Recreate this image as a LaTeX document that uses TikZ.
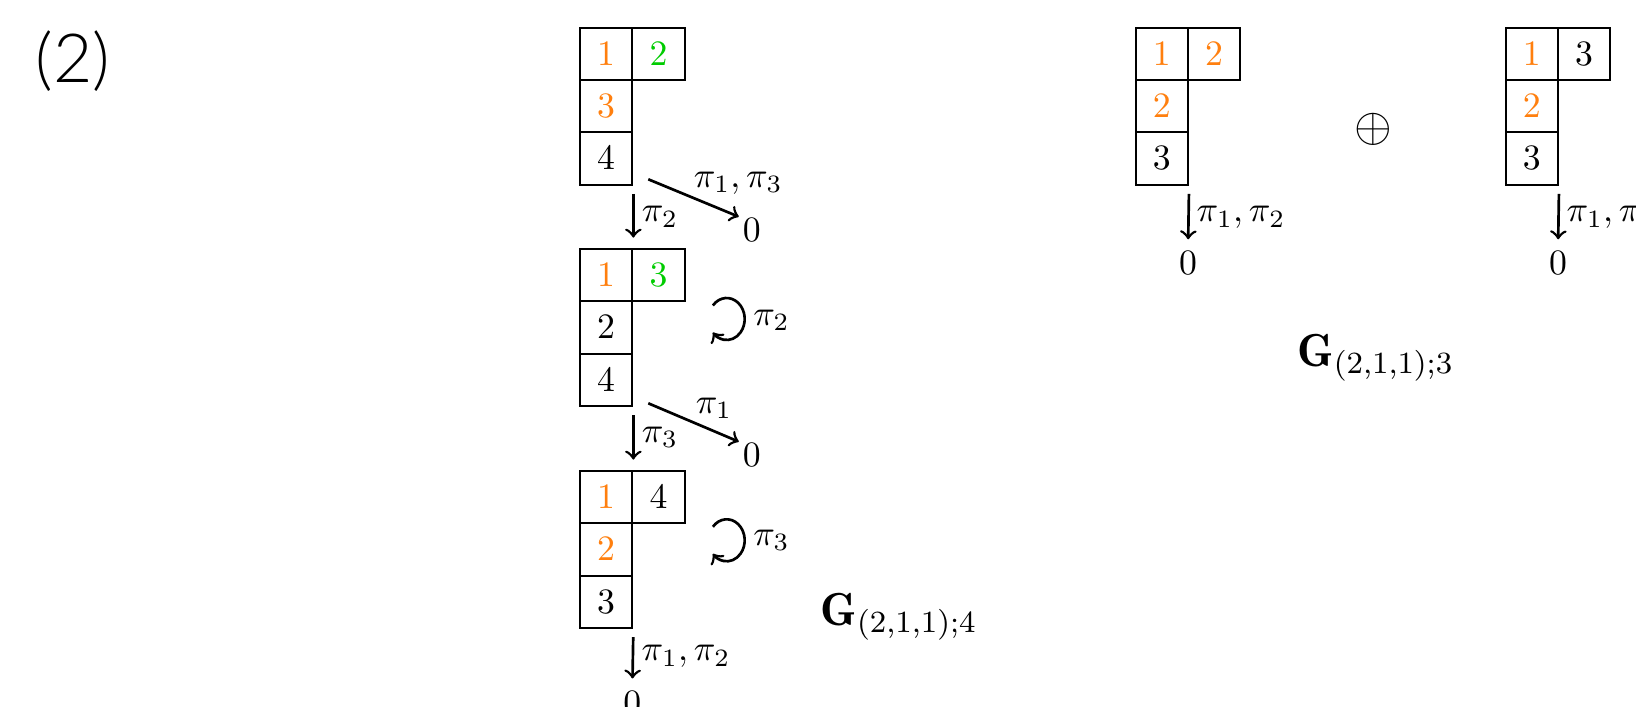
\documentclass[tikz,border=0pt]{standalone}
\usepackage{fontspec}
\newfontfamily\lightfont{Lato Light}
\definecolor{myorange}{RGB}{255,127,14}
\definecolor{mygreen}{RGB}{0,204,0}
\tikzset{
  cell/.style={draw, line width=0.6pt, minimum size=14.64pt, inner sep=0pt},
  arr/.style={->, line width=0.75pt},
  lbl/.style={inner sep=0pt},
  zero/.style={inner sep=0pt},
  bigl/.style={inner sep=0pt, anchor=base west, font=\large, scale=1.08},
}
\newcommand{\mytab}[7]{%
  \node[cell] (#1a) at ({#2+26.15},{#3+26.15}) {#4};
  \node[cell] (#1b) at ({#2+78.45},{#3+26.15}) {#5};
  \node[cell] (#1c) at ({#2+26.15},{#3+78.45}) {#6};
  \node[cell] (#1d) at ({#2+26.15},{#3+130.75}) {#7};
}
\newcommand{\myor}[1]{{\color{myorange}$#1$}}
\newcommand{\mygr}[1]{{\color{mygreen}$#1$}}
\begin{document}
\begin{tikzpicture}[x=0.28pt,y=-0.28pt]
\useasboundingbox (0,0) rectangle (1636,707);
\node[font=\lightfont\fontsize{19}{22}\selectfont] (lab) at (73,61) {(2)};

% tableau 1
\mytab{t1}{580}{27.7}{\myor{1}}{\mygr{2}}{\myor{3}}{$4$}
\coordinate (s1) at (648.3,179.3);
\node[zero] (z1) at (751.7,230.3) {$0$};
\draw[arr, shorten >=1pt] (s1) -- (z1.north west);
\node[lbl] (p1) at (660,216.7) {$\pi_2$};
\node[lbl] (p2) at (738.3,183) {$\pi_1, \pi_3$};

% tableau 2
\mytab{t2}{580}{249}{\myor{1}}{\mygr{3}}{$2$}{$4$}
\draw[arr, shorten <=2.3pt, shorten >=2.9pt] (t1d.south east) -- (t2a.north east);
\coordinate (l2) at (712.9,305.5);
\draw[arr] (l2) arc[start angle=140, end angle=-140, x radius=5.04pt, y radius=5.88pt];
\node[lbl] (p3) at (771.5,320.5) {$\pi_2$};
\coordinate (s2) at (648.3,403.3);
\node[zero] (z2) at (751.7,455.3) {$0$};
\draw[arr, shorten >=1pt] (s2) -- (z2.north west);
\node[lbl] (p4) at (714,408.3) {$\pi_1$};
\node[lbl] (p5) at (660,437.5) {$\pi_3$};

% tableau 3
\mytab{t3}{580}{471}{\myor{1}}{$4$}{\myor{2}}{$3$}
\draw[arr, shorten <=2.3pt, shorten >=2.9pt] (t2d.south east) -- (t3a.north east);
\coordinate (l3) at (712.9,526.8);
\draw[arr] (l3) arc[start angle=140, end angle=-140, x radius=5.04pt, y radius=5.88pt];
\node[lbl] (p6) at (771.5,540) {$\pi_3$};
\node[zero] (z3) at (632.3,702.5) {$0$};
\draw[arr, shorten <=2.3pt, shorten >=3.3pt] (t3d.south east) -- (z3.north);
\node[lbl] (p7) at (686,656.7) {$\pi_1, \pi_2$};
\node[bigl] (g4) at (820,625.7) {$\mathbf{G}_{(2,1,1);4}$};

% tableau 4
\mytab{t4}{1135.7}{27.7}{\myor{1}}{\myor{2}}{\myor{2}}{$3$}
\node[zero] (z4) at (1188,263.3) {$0$};
\draw[arr, shorten <=2.3pt, shorten >=3.3pt] (t4d.south east) -- (z4.north);
\node[lbl] (p8) at (1241,217.5) {$\pi_1, \pi_2$};

\node[inner sep=0pt, font=\large, scale=1.13] (op) at (1373,129.5) {$\oplus$};

% tableau 5
\mytab{t5}{1505.7}{27.7}{\myor{1}}{$3$}{\myor{2}}{$3$}
\node[zero] (z5) at (1558,263.3) {$0$};
\draw[arr, shorten <=2.3pt, shorten >=3.3pt] (t5d.south east) -- (z5.north);
\node[lbl] (p9) at (1611,217.5) {$\pi_1, \pi_2$};

\node[bigl] (g3) at (1296.7,366.7) {$\mathbf{G}_{(2,1,1);3}$};
\end{tikzpicture}
\end{document}
